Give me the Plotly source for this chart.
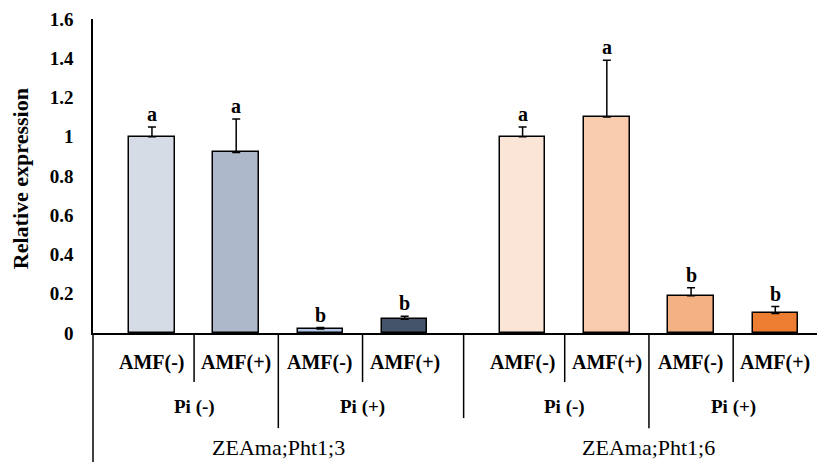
import plotly.graph_objects as go

# ---- data ----
genes = ["ZEAma;Pht1;3", "ZEAma;Pht1;6"]
pi_levels = ["Pi (-)", "Pi (+)"]
amf_levels = ["AMF(-)", "AMF(+)"]
values = [1.00, 0.92, 0.02, 0.07, 1.00, 1.10, 0.19, 0.10]
errors = [0.05, 0.17, 0.008, 0.015, 0.05, 0.29, 0.04, 0.035]
letters = ["a", "a", "b", "b", "a", "a", "b", "b"]
colors = ["#D6DCE5", "#ADB9CA", "#B4C7E7", "#44546A",
          "#FBE5D6", "#F8CBAD", "#F4B183", "#ED7D31"]
y_ticks = [0, 0.2, 0.4, 0.6, 0.8, 1, 1.2, 1.4, 1.6]
y_ticktext = ["0", "0.2", "0.4", "0.6", "0.8", "1", "1.2", "1.4", "1.6"]
y_title = "Relative expression"

# ---- positions (computed) ----
group_gap = 0.4
n_per_gene = len(pi_levels) * len(amf_levels)
xpos = []
for g in range(len(genes)):
    for k in range(n_per_gene):
        xpos.append(g * (n_per_gene + group_gap) + k)

SERIF = "'Liberation Serif', 'Times New Roman', 'DejaVu Serif', serif"

fig = go.Figure()
fig.add_trace(go.Bar(
    x=xpos, y=values, width=0.54,
    marker=dict(color=colors, line=dict(color="black", width=1.5)),
    error_y=dict(type="data", symmetric=False, array=errors,
                 arrayminus=[0] * len(errors),
                 color="black", thickness=1.5, width=4),
    showlegend=False, hoverinfo="skip",
))

annotations = []
for x, v, e, l in zip(xpos, values, errors, letters):
    annotations.append(dict(x=x, y=v + e, xref="x", yref="y", text="<b>" + l + "</b>",
                            showarrow=False, yanchor="middle", yshift=13,
                            font=dict(family=SERIF, size=20, color="black")))

shapes = []
line = dict(color="black", width=1.5)
y_amf, y_pi, y_gene_text = -0.0955, -0.236, -0.366
for i, x in enumerate(xpos):
    annotations.append(dict(x=x, y=y_amf, xref="x", yref="paper",
                            text="<b>" + amf_levels[i % 2] + "</b>", showarrow=False,
                            yanchor="middle",
                            font=dict(family=SERIF, size=20, color="black")))
for g in range(len(genes)):
    for p in range(len(pi_levels)):
        i0 = g * n_per_gene + p * 2
        xc = (xpos[i0] + xpos[i0 + 1]) / 2
        annotations.append(dict(x=xc, y=y_pi, xref="x", yref="paper",
                                text="<b>" + pi_levels[p] + "</b>", showarrow=False,
                                yanchor="middle",
                                font=dict(family=SERIF, size=19, color="black")))
for g in range(len(genes)):
    xc = (xpos[g * n_per_gene] + xpos[g * n_per_gene + n_per_gene - 1]) / 2
    annotations.append(dict(x=xc, y=y_gene_text, xref="x", yref="paper",
                            text=genes[g], showarrow=False, yanchor="middle",
                            font=dict(family=SERIF, size=22, color="black")))
annotations.append(dict(x=-0.0997, y=0.49, xref="paper", yref="paper",
                        text="<b>" + y_title + "</b>", textangle=-90,
                        showarrow=False, xanchor="center", yanchor="middle",
                        font=dict(family=SERIF, size=22, color="black")))

for g in range(len(genes)):
    base = g * n_per_gene
    for k in range(n_per_gene - 1):
        xm = (xpos[base + k] + xpos[base + k + 1]) / 2
        y1 = -0.303 if k == 1 else -0.156
        shapes.append(dict(type="line", xref="x", yref="paper", x0=xm, x1=xm,
                           y0=0, y1=y1, line=line))
    if g < len(genes) - 1:
        xm = (xpos[base + n_per_gene - 1] + xpos[base + n_per_gene]) / 2
        shapes.append(dict(type="line", xref="x", yref="paper", x0=xm, x1=xm,
                           y0=0, y1=-0.271, line=line))
shapes.append(dict(type="line", xref="paper", yref="paper", x0=0, x1=0,
                   y0=0, y1=-0.42, line=line))

fig.update_layout(
    width=817, height=454,
    margin=dict(l=85, r=0, t=11, b=129),
    paper_bgcolor="white", plot_bgcolor="white",
    xaxis=dict(range=[-0.70, 7.99], showticklabels=False, showgrid=False,
               zeroline=False, showline=True, linecolor="black", linewidth=1.5,
               ticks="", automargin=False),
    yaxis=dict(range=[0, 1.6], tickvals=y_ticks,
               ticktext=["<b>" + t + "</b>" for t in y_ticktext],
               showgrid=False, zeroline=False, showline=True, linecolor="black",
               linewidth=1.5, ticks="", ticklabelstandoff=14, automargin=False,
               ticklabeloverflow="allow",
               tickfont=dict(family=SERIF, size=19, color="black")),
    annotations=annotations,
    shapes=shapes,
    bargap=0,
)
fig.write_html("out.html")
